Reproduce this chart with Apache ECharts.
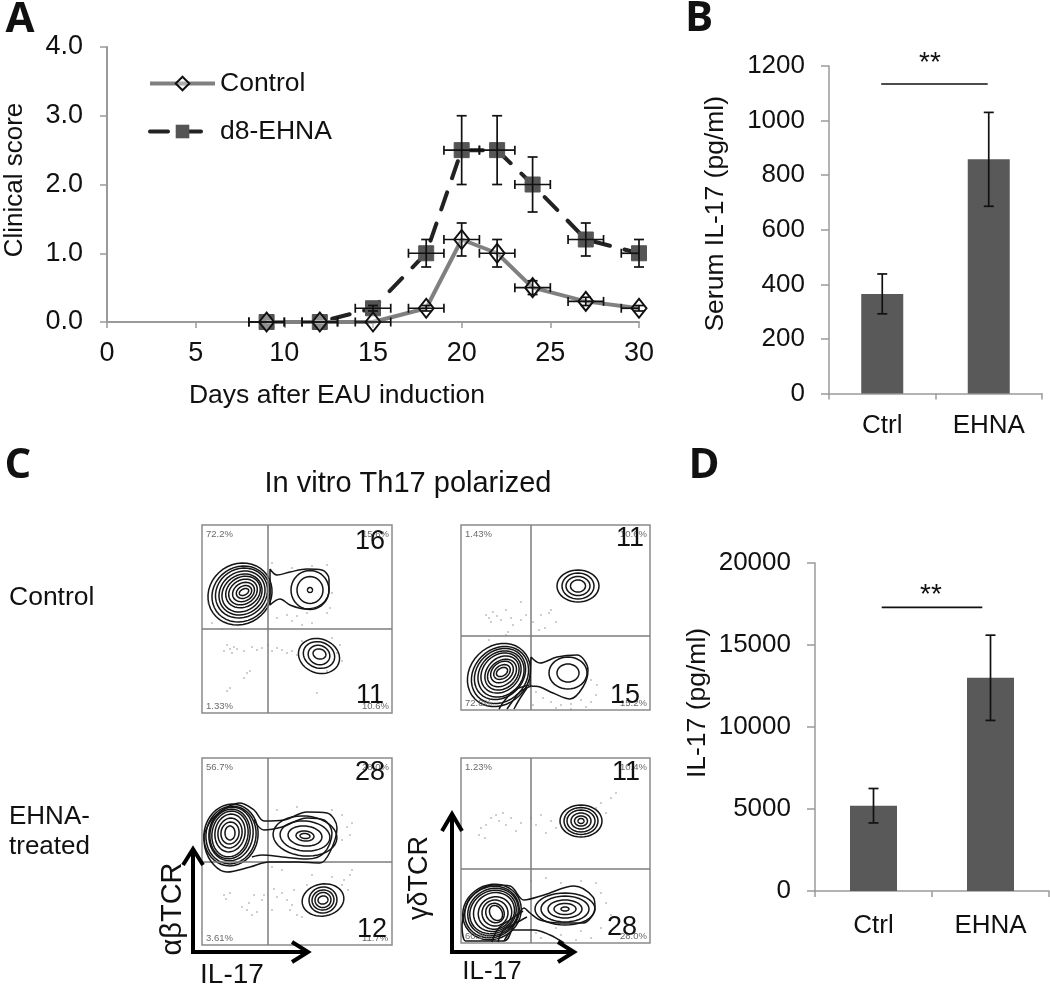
<!DOCTYPE html>
<html><head><meta charset="utf-8">
<style>html,body{margin:0;padding:0;background:#fff}#c{width:1050px;height:985px}</style>
<script src="https://cdn.jsdelivr.net/npm/echarts@6/dist/echarts.min.js"></script>
</head><body><div id="c"></div>
<script>
// ---- Panel A data
const days = [9,12,15,18,20,22,24,27,30];
const controlScore = [0,0,0,0.2,1.2,1.0,0.5,0.3,0.2];
const controlErr   = [0,0,0,0.04,0.24,0.2,0.1,0.06,0.04];
const ehnaScore = [0,0,0.2,1.0,2.5,2.5,2.0,1.2,1.0];
const ehnaErr   = [0,0,0.04,0.2,0.5,0.5,0.4,0.24,0.2];
const dayErr = 1;
// ---- Panels B, D data
const barCats = ['Ctrl','EHNA'];
const serumVals = [365,858];
const serumErr = [73,172];
const serumSigX = [0.49,1.49], serumSigY = 1134;
const invitroVals = [5200,13000];
const invitroErr = [1050,2600];
const invitroSigX = [0.57,1.43], invitroSigY = 17300;
// ---- Panel C: contour rings [cx, cy, rx, ry, rotation], outlines and event dots (in plot units)
const rings1 = [[38,119,33,30,35],[39,119,30,27,35],[39.5,120,27,24,35],[40,120,24,21,35],[40,120,21,18,35],[41,121,18,15,30],[41,121,15,12,30],[41.5,121,11.5,9,30],[42,121,8,6,25],[42,121,5,3,25],
  [108,123,19,19.5,0],[108,123,13,13.5,0],[108,123,2.5,2.5,0],
  [117,57,21,17,-20],[117,58,16,13,-20],[117,58,11,9.5,-20],[117.5,59,6.5,5,-15]];
const outline1 = [[[68,144],[75,138],[88,141],[105,144],[120,143],[127,134],[127,123],[120,109],[103,104],[88,108],[78,114],[68,108]]];
const dots1 = [[25,68],[28,64],[22,62],[32,66],[35,64],[30,60],[42,62],[50,66],[55,63],[60,65],[66,68],[70,62],[75,65],[80,63],[85,60],[90,62],[95,58],[45,40],[42,35],[48,42],[28,25],[25,22],[115,20],[70,150],[90,145],[110,147],[125,148],[130,120],[128,105],[85,98],[95,97],[105,100],[90,92],[100,88],[110,90],[75,95],[125,100],[135,60],[140,52],[138,68],[100,72],[130,75],[125,42],[6,110],[10,90],[20,84]];
const rings2 = [[117,124,21,16,0],[117,124,16,13,0],[117,124,12,9.5,0],[117,124,7.5,6,0],
  [38,35,34,29,45],[39,35,31,26,45],[39,36,28,23,45],[40,36,25,21,45],[40,37,22,18,45],[41,37,19,15,45],[41,37,16,12,40],[41,38,12.5,9.5,40],[41,38,9,6.5,35],[41,38,6,4,30],
  [107,37,19,16,0],[107,37,11,9,0]];
const outline2 = [[[70,53],[79,47],[96,53],[116,55],[127,40],[122,23],[109,11],[92,17],[79,23],[69,25]]];
const tails2 = [[[38,1],[44,10],[54,20],[68,25]],[[46,1],[51,8],[59,18],[70,24]],[[53,1],[58,10],[66,22]]];
const dots2 = [[25,95],[28,92],[32,98],[30,88],[36,94],[40,90],[45,100],[50,92],[52,85],[47,78],[45,75],[28,70],[60,90],[72,88],[80,95],[88,97],[95,88],[84,82],[90,100],[78,80],[60,108],[65,95],[75,18],[82,12],[90,8],[100,5],[110,6],[120,10],[130,8],[135,15],[125,3],[72,5],[130,30],[136,25],[95,2],[110,1]];
const rings3 = [[29,110,27,31,-10],[29,110,25,29,-10],[29,111,22,27,-10],[28,111,20,25,-10],[28,111,18,23,-10],[28,112,15,19,-10],[28,112,12,15,-10],[28,112,9,11,-10],[28,112,5,7,0],
  [103,109,32,20,-5],[103,109,25,15,-5],[103,109,17,10,-5],[103,109,9,5,-5],[103,109,5,2.5,-5],
  [121,45,21,16,10],[121,45,14,13,10],[121,45,11,10,10],[121,45,8,7.5,10],[121,45,5,4,10]];
const outline3 = [[[2,110],[12,128],[38,142],[52,135],[62,124],[82,125],[105,133],[125,132],[135,117],[128,93],[118,82],[95,83],[67,83],[48,78],[25,73],[12,80],[3,97]]];
const tails3 = [[[52,125],[62,115],[80,118],[105,127],[122,125],[130,112],[122,92],[105,86],[80,88],[60,90],[50,88]]];
const dots3 = [[22,50],[28,52],[24,46],[40,38],[45,35],[47,42],[50,30],[55,33],[60,45],[52,50],[62,50],[72,56],[75,48],[80,52],[85,45],[90,40],[92,55],[88,35],[95,30],[100,28],[70,35],[105,60],[130,68],[140,60],[148,70],[146,55],[142,65],[150,75],[110,70],[80,75],[70,78],[75,135],[95,138],[130,135],[140,130],[145,118],[150,122],[148,110],[140,105]];
const rings4 = [[120,122,21,16,0],[120,122,17,13.5,0],[120,122,14,11,0],[120,122,10,8,0],[120,122,6.5,5,0],[120,122,3,2.5,0],
  [31,31,30,27,30],[31,31,28,25,30],[32,31,26,23,30],[32,31,24,21,30],[33,31,21,19,30],[34,30,17,16,30],[34,30,13,13,30],[34,30,9,10,30],[35,30,6,8,30],
  [104,34,30,16,0],[104,34,24,13,0],[104,34,17,9,0],[104,34,11,5.5,0],[104,34,4,2,0]];
const outline4 = [[[1,18],[9,45],[33,58],[49,57],[63,43],[83,48],[113,57],[132,46],[134,36],[122,20],[99,20],[79,23],[69,30],[63,35],[53,18],[43,2],[5,2]]];
const tails4 = [[[43,2],[53,13],[73,13],[89,8],[103,0]],[[37,1],[42,12],[55,20],[66,26]],[[31,1],[37,14],[50,24],[62,32]]];
const dots4 = [[20,115],[25,118],[30,125],[35,128],[38,122],[42,130],[45,118],[50,125],[55,112],[60,120],[18,108],[24,105],[70,125],[75,118],[80,128],[85,110],[90,122],[95,115],[100,118],[105,125],[140,140],[145,130],[150,145],[135,135],[155,150],[70,62],[85,65],[100,60],[120,62],[135,60],[140,50],[145,40],[150,28],[140,15],[120,12],[100,8],[80,5],[130,5],[75,10],[95,15],[115,3]];
const flowPercents = [['72.2%','15.6%','1.33%','10.6%'],['1.43%','10.6%','72.8%','15.2%'],['56.7%','28.0%','3.61%','11.7%'],['1.23%','10.4%','60.2%','28.0%']];
const flowNumbers = [['16','11'],['11','15'],['28','12'],['11','28']];
const flowBoxes = [
  {l:202,b:713,w:190,h:188,gx:66,gy:84,rings:rings1,lines:outline1,open:[],dots:dots1,numA:[370,542],numB:[370,696]},
  {l:461,b:710,w:189,h:185,gx:70,gy:74,rings:rings2,lines:outline2,open:tails2,dots:dots2,numA:[630,539],numB:[625,696]},
  {l:202,b:945,w:190,h:187,gx:66,gy:83,rings:rings3,lines:outline3,open:tails3,dots:dots3,numA:[370,773],numB:[372,930]},
  {l:461,b:943,w:189,h:185,gx:70,gy:74,rings:rings4,lines:outline4,open:tails4,dots:dots4,numA:[626,773],numB:[622,928]}
];

const FONT = '"Liberation Sans", Arial, sans-serif';
const AX = '#9a9a9a', INK = '#111';
const grids=[], xAxes=[], yAxes=[], series=[];
const lastDay = days[days.length-1];

function errorRender(params, api){
  const x=api.value(0), y=api.value(1), xe=api.value(2), ye=api.value(3), cap=api.value(4);
  const kids=[]; const ls={stroke:INK,lineWidth:1.7,fill:null};
  const seg=(a,b)=>kids.push({type:'line',shape:{x1:a[0],y1:a[1],x2:b[0],y2:b[1]},style:ls});
  if(ye>0){const t=api.coord([x,y+ye]),b=api.coord([x,y-ye]);seg(t,b);seg([t[0]-cap,t[1]],[t[0]+cap,t[1]]);seg([b[0]-cap,b[1]],[b[0]+cap,b[1]]);}
  if(xe>0){
    const over=x+xe>lastDay;
    const l=api.coord([x-xe,y]),r=api.coord([Math.min(x+xe,lastDay),y]);seg(l,r);
    seg([l[0],l[1]-4.5],[l[0],l[1]+4.5]);
    if(!over)seg([r[0],r[1]-4.5],[r[0],r[1]+4.5]);
  }
  return {type:'group',children:kids};
}

// ---- Panel A
grids.push({left:107,top:47,width:532,height:275,outerBoundsMode:'none'});
xAxes.push({gridIndex:0,type:'value',min:0,max:30,interval:5,splitLine:{show:false},
  name:'Days after EAU induction',nameLocation:'middle',nameGap:60,nameTextStyle:{fontFamily:FONT,fontSize:26.5,color:INK,padding:[0,72,0,0]},
  axisLine:{onZero:false,lineStyle:{color:AX,width:2}},axisTick:{length:6,lineStyle:{color:AX,width:1.5}},
  axisLabel:{fontFamily:FONT,fontSize:27,color:INK,margin:18}});
yAxes.push({gridIndex:0,type:'value',min:0,max:4,interval:1,splitLine:{show:false},
  name:'Clinical score',nameLocation:'middle',nameGap:79,nameTextStyle:{fontFamily:FONT,fontSize:26,color:INK,padding:[0,0,0,9]},
  axisLine:{show:true,lineStyle:{color:AX,width:2}},axisTick:{show:true,length:7,lineStyle:{color:AX,width:1.5}},
  axisLabel:{fontFamily:FONT,fontSize:27,color:INK,margin:24,formatter:v=>v.toFixed(1)}});
const zip=(ys)=>days.map((d,i)=>[d,ys[i]]);
series.push({name:'d8-EHNA',type:'line',xAxisIndex:0,yAxisIndex:0,data:zip(ehnaScore),clip:false,z:3,
  symbol:'rect',symbolSize:15,itemStyle:{color:'#555555',borderColor:'#555555'},
  lineStyle:{color:'#222',width:4,type:[18,15],cap:'round'}});
series.push({name:'Control',type:'line',xAxisIndex:0,yAxisIndex:0,data:zip(controlScore),clip:false,z:4,
  symbol:'diamond',symbolSize:[15,19],itemStyle:{color:'rgba(255,255,255,0.35)',borderColor:'#111',borderWidth:2},
  lineStyle:{color:'#808080',width:4}});
series.push({type:'custom',xAxisIndex:0,yAxisIndex:0,clip:false,z:5,renderItem:errorRender,silent:true,
  encode:{x:0,y:1},data:days.map((d,i)=>[d,ehnaScore[i],dayErr,ehnaErr[i],5])});
series.push({type:'custom',xAxisIndex:0,yAxisIndex:0,clip:false,z:5,renderItem:errorRender,silent:true,
  encode:{x:0,y:1},data:days.map((d,i)=>[d,controlScore[i],dayErr,controlErr[i],5])});

// ---- Bar panels
function barPanel(g,vals,errs,max,step,name,sigX,sigY,nameGap,labelGap,bw,namePad){
  const idx=grids.length, xi=xAxes.length;
  grids.push(Object.assign({outerBoundsMode:'none'},g));
  xAxes.push({gridIndex:idx,type:'category',data:barCats,
    axisLine:{lineStyle:{color:AX,width:1.5}},axisTick:{show:true,length:6,lineStyle:{color:AX,width:1.5}},
    axisLabel:{fontFamily:FONT,fontSize:26,color:INK,margin:labelGap}});
  yAxes.push({gridIndex:idx,type:'value',min:0,max,interval:step,splitLine:{show:false},
    name,nameLocation:'middle',nameGap,nameTextStyle:{fontFamily:FONT,fontSize:26.5,color:INK,padding:[0,0,0,namePad]},
    axisLine:{show:true,lineStyle:{color:AX,width:1.5}},axisTick:{show:true,length:8,lineStyle:{color:AX,width:1.5}},
    axisLabel:{fontFamily:FONT,fontSize:26,color:INK,margin:24,formatter:v=>String(v)}});
  series.push({type:'bar',xAxisIndex:xi,yAxisIndex:idx,data:vals,barWidth:bw,itemStyle:{color:'#595959'},silent:true});
  series.push({type:'custom',xAxisIndex:xi,yAxisIndex:idx,z:5,renderItem:errorRender,silent:true,clip:false,
    encode:{x:0,y:1},data:vals.map((v,i)=>[i,v,0,errs[i],5])});
  // hidden numeric x axis for the significance bar
  const h=xAxes.length;
  xAxes.push({gridIndex:idx,type:'value',min:0,max:2,show:false,splitLine:{show:false}});
  series.push({type:'line',xAxisIndex:h,yAxisIndex:idx,symbol:'none',silent:true,
    lineStyle:{color:INK,width:1.7},data:sigX.map(x=>[x,sigY])});
}
barPanel({left:829,top:66,width:213,height:327.5},serumVals,serumErr,1200,200,'Serum IL-17 (pg/ml)',serumSigX,serumSigY,100,19,42,32);
barPanel({left:815,top:563,width:234,height:328},invitroVals,invitroErr,20000,5000,'IL-17 (pg/ml)',invitroSigX,invitroSigY,104,22,47,48);

// ---- Flow plots
function ringRender(params,api){
  const cx=api.value(0),cy=api.value(1),rx=api.value(2),ry=api.value(3),rot=api.value(4)*Math.PI/180;
  const pts=[];
  for(let k=0;k<40;k++){const t=k/40*2*Math.PI;const u=rx*Math.cos(t),v=ry*Math.sin(t);
    pts.push(api.coord([cx+u*Math.cos(rot)-v*Math.sin(rot),cy+u*Math.sin(rot)+v*Math.cos(rot)]));}
  return {type:'polygon',shape:{points:pts},style:{fill:null,stroke:'#151515',lineWidth:1.5}};
}
flowBoxes.forEach((b)=>{
  const idx=grids.length, xi=xAxes.length, yi=yAxes.length;
  grids.push({left:b.l,top:b.b-b.h,width:b.w,height:b.h,show:true,borderColor:'#8a8a8a',borderWidth:1.5,backgroundColor:'transparent',outerBoundsMode:'none'});
  xAxes.push({gridIndex:idx,type:'value',min:0,max:b.w,show:false,splitLine:{show:false}});
  yAxes.push({gridIndex:idx,type:'value',min:0,max:b.h,show:false,splitLine:{show:false}});
  const base={xAxisIndex:xi,yAxisIndex:yi,silent:true};
  const gate=d=>series.push(Object.assign({type:'line',symbol:'none',lineStyle:{color:'#7d7d7d',width:1.5},data:d},base));
  gate([[b.gx,0],[b.gx,b.h]]); gate([[0,b.gy],[b.w,b.gy]]);
  series.push(Object.assign({type:'scatter',symbolSize:1.6,itemStyle:{color:'#777'},data:b.dots},base));
  series.push(Object.assign({type:'custom',clip:true,renderItem:ringRender,encode:{x:0,y:1},data:b.rings},base));
  b.lines.forEach(l=>series.push(Object.assign({type:'line',symbol:'none',smooth:0.35,lineStyle:{color:'#151515',width:1.5},data:l.concat([l[0]])},base)));
  b.open.forEach(l=>series.push(Object.assign({type:'line',symbol:'none',smooth:0.35,lineStyle:{color:'#151515',width:1.5},data:l},base)));
});

// ---- Text and annotation arrows
const gfx=[];
const txt=(t,x,y,size,o={})=>gfx.push({type:'text',z:20,silent:true,x,y,rotation:o.rot||0,
  style:{text:t,x:0,y:0,font:`${o.weight||'normal'} ${size}px ${o.family||FONT}`,fill:o.fill||INK,align:o.align||'center',verticalAlign:'middle',textAlign:o.align||'center',textVerticalAlign:'middle'}});
const LETTER='"Open Sans", sans-serif';
txt('A',20,20,42,{weight:'bold',family:LETTER});
txt('B',699,19,42,{weight:'bold',family:LETTER});
txt('C',18,466,42,{weight:'bold',family:LETTER});
txt('D',704,466,42,{weight:'bold',family:LETTER});
txt('**',930,63,28); txt('**',931,595,28);
txt('In vitro Th17 polarized',408,484,29);
txt('Control',9,598,26.5,{align:'left'});
txt('EHNA-',9,817,26,{align:'left'});
txt('treated',9,847,26,{align:'left'});
flowBoxes.forEach((b,i)=>{
  const p=flowPercents[i], top=b.b-b.h, r=b.l+b.w;
  const s={fill:'#6a6a6a',align:'left'};
  txt(p[0],b.l+4,top+9,9.5,s); txt(p[2],b.l+4,b.b-7,9.5,s);
  txt(p[1],r-30,top+9,9.5,s); txt(p[3],r-30,b.b-7,9.5,s);
  txt(flowNumbers[i][0],b.numA[0],b.numA[1],27); txt(flowNumbers[i][1],b.numB[0],b.numB[1],27);
});
txt('αβTCR',173,909,29,{rot:Math.PI/2});
txt('γδTCR',420,878,27,{rot:Math.PI/2});
txt('IL-17',232,975,28); txt('IL-17',492,972,26);
const arrow=(pts)=>gfx.push({type:'polyline',z:19,silent:true,shape:{points:pts},style:{stroke:'#000',lineWidth:4,fill:null,lineJoin:'miter'}});
arrow([[193,850],[193,952],[306,952]]);
arrow([[183,865],[193,849],[203,865]]);
arrow([[292,942],[308,952],[292,962]]);
arrow([[452,815],[452,952],[572,952]]);
arrow([[442,831],[452,814],[462,831]]);
arrow([[558,942],[574,952],[558,962]]);

const chart=echarts.init(document.getElementById('c'),null,{renderer:'canvas'});
chart.setOption({animation:false,backgroundColor:'#fff',grid:grids,xAxis:xAxes,yAxis:yAxes,series,graphic:gfx,
  legend:{data:['Control','d8-EHNA'],orient:'vertical',left:143,top:65,itemWidth:65,itemHeight:17,itemGap:21,
    lineStyle:{width:4},textStyle:{fontFamily:FONT,fontSize:26.5,color:INK},selectedMode:false}});
</script></body></html>
